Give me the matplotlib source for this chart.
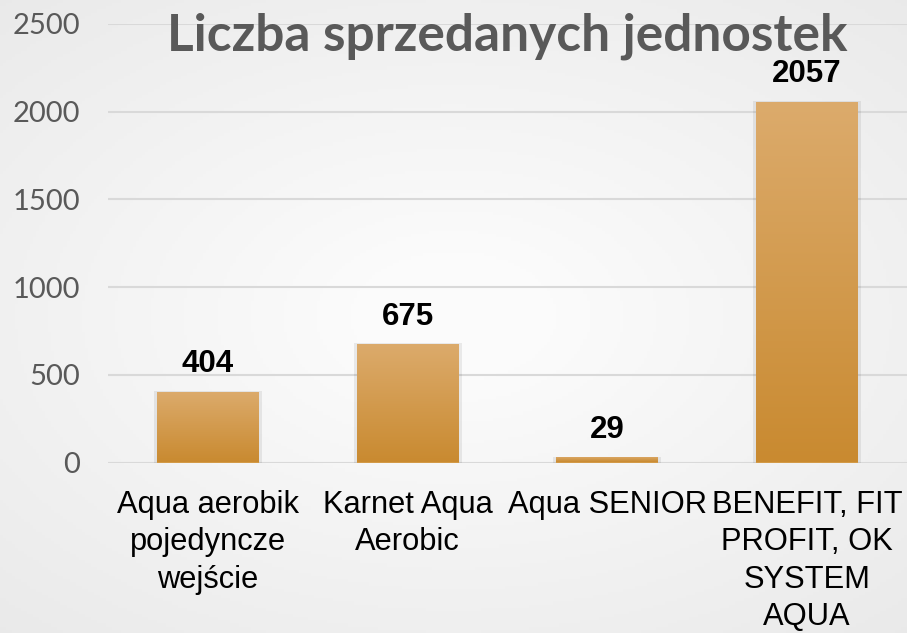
import numpy as np
import matplotlib
matplotlib.use('Agg')
import matplotlib.pyplot as plt
from matplotlib.colors import LinearSegmentedColormap

categories = ['Aqua aerobik\npojedyncze\nwejście', 'Karnet Aqua\nAerobic',
              'Aqua SENIOR', 'BENEFIT, FIT\nPROFIT, OK\nSYSTEM\nAQUA']
values = [404, 675, 29, 2057]
yticks = [0, 500, 1000, 1500, 2000, 2500]
title = 'Liczba sprzedanych jednostek'

W, H, DPI = 907, 633, 100
fig = plt.figure(figsize=(W / DPI, H / DPI), dpi=DPI)

# soft background: light centre, greyer edges
bg = fig.add_axes([0, 0, 1, 1], zorder=-10)
yy, xx = np.mgrid[-1:1:200j, -1:1:300j]
r = np.sqrt(xx ** 2 * 0.8 + yy ** 2)
bgcmap = LinearSegmentedColormap.from_list('bg', ['#fbfbfb', '#e9e9e9'])
bg.imshow(r, cmap=bgcmap, aspect='auto', extent=[0, 1, 0, 1], vmin=0.2, vmax=1.4)
bg.axis('off')

ax = fig.add_axes([108 / W, 1 - 462.5 / H, (W - 108) / W, (462.5 - 24) / H])
ax.patch.set_alpha(0)

x = np.arange(len(values))
bars = ax.bar(x, values, width=0.51, color='#d39a47', edgecolor='none', zorder=3)

# vertical gradient on every bar
barcmap = LinearSegmentedColormap.from_list('bar', ['#c98a30', '#dcab6c'])
grad = np.linspace(0, 1, 256).reshape(-1, 1)
for b in bars:
    x0, w, h = b.get_x(), b.get_width(), b.get_height()
    # faint shadow
    ax.bar(x0 + w / 2, h + 8, width=w + 0.03, bottom=-4, color='#000000',
           alpha=0.07, zorder=2)
    im = ax.imshow(grad, cmap=barcmap, aspect='auto', origin='lower',
                   extent=[x0, x0 + w, 0, h], zorder=4)
    im.set_clip_path(b)

for xi, v in zip(x, values):
    ax.annotate(str(v), (xi, v), xytext=(0, 9), textcoords='offset points',
                ha='center', va='bottom', fontsize=22.5, fontweight='bold',
                family='Liberation Sans', color='black', zorder=5)

ax.set_xlim(-0.5, len(values) - 0.5)
ax.set_ylim(0, 2500)
ax.set_yticks(yticks)
ax.set_yticklabels([str(t) for t in yticks], family='Lato', fontsize=21, color='#595959')
ax.set_xticks(x)
ax.set_xticklabels(categories, family='Liberation Sans', fontsize=22.2, color='black',
                   linespacing=1.31, va='top')
ax.tick_params(axis='both', length=0)
ax.tick_params(axis='y', pad=20)
ax.tick_params(axis='x', pad=20)
ax.grid(axis='y', color='#d9d9d9', linewidth=1.5, zorder=0)
ax.set_axisbelow(True)
for s in ax.spines.values():
    s.set_visible(False)

ax.text(0.5, 1 - 26 / (462.5 - 24), title, transform=ax.transAxes, ha='center',
        va='baseline', fontsize=37, fontweight='bold', family='Lato',
        color='#595959', zorder=6)

fig.savefig('out.png', dpi=DPI)
